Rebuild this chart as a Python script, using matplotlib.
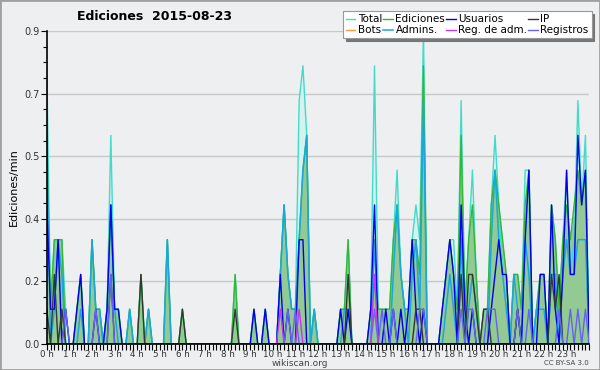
import numpy as np
import matplotlib
matplotlib.use('Agg')
import matplotlib.pyplot as plt
from matplotlib.ticker import MultipleLocator, FuncFormatter
from matplotlib.patches import Rectangle

# edits per minute, one value per 10 minutes (00:00 .. 24:00)
total = [
    0.8, 0.1, 0.3, 0.3, 0.3, 0.1,   # 0 h
    0.0, 0.0, 0.1, 0.2, 0.0, 0.0,   # 1 h
    0.3, 0.1, 0.1, 0.0, 0.1, 0.6,   # 2 h
    0.1, 0.1, 0.0, 0.0, 0.1, 0.0,   # 3 h
    0.0, 0.2, 0.0, 0.1, 0.0, 0.0,   # 4 h
    0.0, 0.0, 0.3, 0.0, 0.0, 0.0,   # 5 h
    0.1, 0.0, 0.0, 0.0, 0.0, 0.0,   # 6 h
    0.0, 0.0, 0.0, 0.0, 0.0, 0.0,   # 7 h
    0.0, 0.0, 0.2, 0.0, 0.0, 0.0,   # 8 h
    0.0, 0.1, 0.0, 0.0, 0.1, 0.0,   # 9 h
    0.0, 0.0, 0.2, 0.4, 0.2, 0.1,   # 10 h
    0.1, 0.7, 0.8, 0.6, 0.0, 0.1,   # 11 h
    0.0, 0.0, 0.0, 0.0, 0.0, 0.0,   # 12 h
    0.1, 0.1, 0.3, 0.0, 0.0, 0.0,   # 13 h
    0.0, 0.0, 0.1, 0.8, 0.1, 0.1,   # 14 h
    0.1, 0.1, 0.3, 0.5, 0.2, 0.1,   # 15 h
    0.1, 0.3, 0.4, 0.3, 0.9, 0.0,   # 16 h
    0.0, 0.0, 0.0, 0.1, 0.2, 0.3,   # 17 h
    0.3, 0.1, 0.7, 0.1, 0.3, 0.5,   # 18 h
    0.2, 0.0, 0.1, 0.1, 0.4, 0.6,   # 19 h
    0.4, 0.2, 0.2, 0.0, 0.2, 0.2,   # 20 h
    0.1, 0.5, 0.5, 0.0, 0.1, 0.2,   # 21 h
    0.2, 0.0, 0.4, 0.3, 0.1, 0.3,   # 22 h
    0.5, 0.2, 0.3, 0.7, 0.4, 0.6,   # 23 h
    0.0]
ediciones = [
    0.6, 0.1, 0.3, 0.3, 0.3, 0.0,
    0.0, 0.0, 0.1, 0.2, 0.0, 0.0,
    0.3, 0.1, 0.1, 0.0, 0.1, 0.4,
    0.1, 0.1, 0.0, 0.0, 0.1, 0.0,
    0.0, 0.2, 0.0, 0.1, 0.0, 0.0,
    0.0, 0.0, 0.3, 0.0, 0.0, 0.0,
    0.1, 0.0, 0.0, 0.0, 0.0, 0.0,
    0.0, 0.0, 0.0, 0.0, 0.0, 0.0,
    0.0, 0.0, 0.2, 0.0, 0.0, 0.0,
    0.0, 0.1, 0.0, 0.0, 0.1, 0.0,
    0.0, 0.0, 0.2, 0.4, 0.2, 0.1,
    0.1, 0.3, 0.5, 0.6, 0.0, 0.1,
    0.0, 0.0, 0.0, 0.0, 0.0, 0.0,
    0.1, 0.1, 0.3, 0.0, 0.0, 0.0,
    0.0, 0.0, 0.1, 0.2, 0.1, 0.1,
    0.1, 0.1, 0.3, 0.4, 0.2, 0.1,
    0.1, 0.3, 0.3, 0.2, 0.8, 0.0,
    0.0, 0.0, 0.0, 0.1, 0.2, 0.3,
    0.2, 0.1, 0.6, 0.1, 0.3, 0.4,
    0.2, 0.0, 0.1, 0.1, 0.4, 0.5,
    0.4, 0.3, 0.2, 0.0, 0.2, 0.2,
    0.1, 0.4, 0.5, 0.0, 0.1, 0.2,
    0.2, 0.0, 0.4, 0.3, 0.1, 0.3,
    0.4, 0.3, 0.4, 0.5, 0.4, 0.5,
    0.0]
usuarios = [
    0.4, 0.1, 0.1, 0.3, 0.0, 0.1,
    0.0, 0.0, 0.1, 0.2, 0.0, 0.0,
    0.0, 0.1, 0.0, 0.0, 0.1, 0.4,
    0.1, 0.1, 0.0, 0.0, 0.0, 0.0,
    0.0, 0.0, 0.0, 0.0, 0.0, 0.0,
    0.0, 0.0, 0.0, 0.0, 0.0, 0.0,
    0.0, 0.0, 0.0, 0.0, 0.0, 0.0,
    0.0, 0.0, 0.0, 0.0, 0.0, 0.0,
    0.0, 0.0, 0.0, 0.0, 0.0, 0.0,
    0.0, 0.1, 0.0, 0.0, 0.1, 0.0,
    0.0, 0.0, 0.2, 0.0, 0.1, 0.0,
    0.0, 0.3, 0.3, 0.0, 0.0, 0.0,
    0.0, 0.0, 0.0, 0.0, 0.0, 0.0,
    0.1, 0.0, 0.1, 0.0, 0.0, 0.0,
    0.0, 0.0, 0.1, 0.4, 0.0, 0.0,
    0.1, 0.0, 0.1, 0.0, 0.1, 0.0,
    0.1, 0.3, 0.1, 0.0, 0.1, 0.0,
    0.0, 0.0, 0.0, 0.1, 0.2, 0.3,
    0.2, 0.0, 0.4, 0.1, 0.0, 0.1,
    0.0, 0.0, 0.0, 0.0, 0.1, 0.2,
    0.3, 0.2, 0.2, 0.0, 0.0, 0.1,
    0.0, 0.3, 0.5, 0.0, 0.0, 0.2,
    0.2, 0.0, 0.4, 0.1, 0.0, 0.2,
    0.5, 0.2, 0.2, 0.6, 0.4, 0.5,
    0.0]
ip = [
    0.1, 0.0, 0.2, 0.0, 0.1, 0.0,
    0.0, 0.0, 0.0, 0.0, 0.0, 0.0,
    0.0, 0.0, 0.0, 0.0, 0.0, 0.2,
    0.0, 0.0, 0.0, 0.0, 0.0, 0.0,
    0.0, 0.2, 0.0, 0.0, 0.0, 0.0,
    0.0, 0.0, 0.0, 0.0, 0.0, 0.0,
    0.1, 0.0, 0.0, 0.0, 0.0, 0.0,
    0.0, 0.0, 0.0, 0.0, 0.0, 0.0,
    0.0, 0.0, 0.1, 0.0, 0.0, 0.0,
    0.0, 0.0, 0.0, 0.0, 0.0, 0.0,
    0.0, 0.0, 0.0, 0.0, 0.0, 0.0,
    0.0, 0.0, 0.0, 0.0, 0.0, 0.0,
    0.0, 0.0, 0.0, 0.0, 0.0, 0.0,
    0.0, 0.0, 0.2, 0.0, 0.0, 0.0,
    0.0, 0.0, 0.0, 0.0, 0.0, 0.0,
    0.0, 0.0, 0.0, 0.0, 0.0, 0.0,
    0.0, 0.0, 0.1, 0.1, 0.0, 0.0,
    0.0, 0.0, 0.0, 0.0, 0.0, 0.0,
    0.0, 0.0, 0.2, 0.0, 0.2, 0.2,
    0.1, 0.0, 0.1, 0.1, 0.0, 0.0,
    0.0, 0.0, 0.0, 0.0, 0.0, 0.1,
    0.0, 0.0, 0.0, 0.0, 0.0, 0.0,
    0.0, 0.0, 0.2, 0.1, 0.2, 0.0,
    0.0, 0.0, 0.0, 0.0, 0.0, 0.0,
    0.0]
admins = [
    0.6, 0.0, 0.1, 0.3, 0.2, 0.0,
    0.0, 0.0, 0.0, 0.1, 0.0, 0.0,
    0.3, 0.1, 0.1, 0.0, 0.1, 0.4,
    0.1, 0.0, 0.0, 0.0, 0.1, 0.0,
    0.0, 0.0, 0.0, 0.1, 0.0, 0.0,
    0.0, 0.0, 0.3, 0.0, 0.0, 0.0,
    0.0, 0.0, 0.0, 0.0, 0.0, 0.0,
    0.0, 0.0, 0.0, 0.0, 0.0, 0.0,
    0.0, 0.0, 0.0, 0.0, 0.0, 0.0,
    0.0, 0.0, 0.0, 0.0, 0.0, 0.0,
    0.0, 0.0, 0.2, 0.4, 0.2, 0.1,
    0.1, 0.3, 0.5, 0.6, 0.0, 0.1,
    0.0, 0.0, 0.0, 0.0, 0.0, 0.0,
    0.0, 0.1, 0.1, 0.0, 0.0, 0.0,
    0.0, 0.0, 0.0, 0.3, 0.0, 0.0,
    0.0, 0.0, 0.2, 0.4, 0.2, 0.1,
    0.0, 0.2, 0.3, 0.1, 0.7, 0.0,
    0.0, 0.0, 0.0, 0.0, 0.1, 0.2,
    0.1, 0.0, 0.3, 0.0, 0.1, 0.2,
    0.1, 0.0, 0.0, 0.0, 0.3, 0.5,
    0.3, 0.2, 0.1, 0.0, 0.2, 0.1,
    0.0, 0.3, 0.2, 0.0, 0.1, 0.1,
    0.1, 0.0, 0.2, 0.2, 0.0, 0.2,
    0.3, 0.2, 0.2, 0.3, 0.3, 0.3,
    0.0]
registros = [
    0.0, 0.0, 0.0, 0.0, 0.0, 0.1,
    0.0, 0.0, 0.0, 0.0, 0.0, 0.0,
    0.0, 0.1, 0.0, 0.0, 0.0, 0.2,
    0.0, 0.0, 0.0, 0.0, 0.0, 0.0,
    0.0, 0.0, 0.0, 0.0, 0.0, 0.0,
    0.0, 0.0, 0.0, 0.0, 0.0, 0.0,
    0.0, 0.0, 0.0, 0.0, 0.0, 0.0,
    0.0, 0.0, 0.0, 0.0, 0.0, 0.0,
    0.0, 0.0, 0.0, 0.0, 0.0, 0.0,
    0.0, 0.0, 0.0, 0.0, 0.0, 0.0,
    0.0, 0.0, 0.0, 0.0, 0.1, 0.0,
    0.1, 0.0, 0.0, 0.0, 0.0, 0.0,
    0.0, 0.0, 0.0, 0.0, 0.0, 0.0,
    0.0, 0.0, 0.0, 0.0, 0.0, 0.0,
    0.0, 0.0, 0.0, 0.1, 0.0, 0.1,
    0.0, 0.0, 0.1, 0.0, 0.0, 0.0,
    0.0, 0.0, 0.0, 0.1, 0.1, 0.0,
    0.0, 0.0, 0.0, 0.0, 0.0, 0.0,
    0.0, 0.0, 0.1, 0.0, 0.1, 0.1,
    0.0, 0.0, 0.0, 0.1, 0.1, 0.1,
    0.0, 0.0, 0.0, 0.0, 0.0, 0.1,
    0.0, 0.0, 0.1, 0.0, 0.0, 0.0,
    0.0, 0.0, 0.0, 0.0, 0.1, 0.0,
    0.0, 0.1, 0.0, 0.1, 0.0, 0.1,
    0.0]
reg_adm = [0.0] * 145
reg_adm[62] = 0.1
reg_adm[67] = 0.1
reg_adm[87] = 0.2
bots = [0.0] * 145

hours = np.arange(len(total)) / 6.0
hour_labels = ['%d h' % h for h in range(24)]

bg = '#eeeff1'
fig = plt.figure(figsize=(6, 3.7), dpi=100, facecolor=bg)
ax = fig.add_axes([0.078, 0.0703, 0.904, 0.8457], facecolor=bg)

ax.fill_between(hours, total, color='#d6f2ee', lw=0, zorder=1)
ax.fill_between(hours, ediciones, color='#93c993', lw=0, zorder=1.1)

ax.plot(hours, bots, color='#ff9933', lw=1, label='Bots', zorder=1.2)
ax.plot(hours, total, color='#40dcc8', lw=1, label='Total', zorder=2)
ax.plot(hours, ediciones, color='#33b833', lw=1, label='Ediciones', zorder=2.1)
ax.plot(hours, admins, color='#1aa8dc', lw=1.1, label='Admins.', zorder=2.2)
ax.plot(hours, usuarios, color='#0000ee', lw=1, label='Usuarios', zorder=2.3)
ax.plot(hours, ip, color='#333833', lw=1, label='IP', zorder=2.4)
ax.plot(hours, registros, color='#6464f0', lw=1, label='Registros', zorder=2.5)
ax.plot(hours, reg_adm, color='#cc33ee', lw=1, label='Reg. de adm.', zorder=2.6)

ax.set_xlim(0, 24)
ax.set_ylim(0, 0.9)
ax.yaxis.set_major_locator(MultipleLocator(0.18))
ax.yaxis.set_minor_locator(MultipleLocator(0.045))
ax.yaxis.set_major_formatter(FuncFormatter(lambda v, p: '%.1f' % v))
ax.set_xticks(range(24))
ax.set_xticklabels(hour_labels)
ax.xaxis.set_minor_locator(MultipleLocator(1 / 6.0))
ax.tick_params(axis='y', labelsize=7, labelcolor='#333333', length=4, width=0.8, pad=1)
ax.tick_params(axis='y', which='minor', length=3, width=0.8)
ax.tick_params(axis='x', which='both', length=4, width=0.8, pad=0,
               labelsize=6.3, labelcolor='#333333')
ax.grid(axis='y', color='#c8c8c8', lw=1, zorder=0.5)
ax.set_axisbelow(True)
for s in ['top', 'right']:
    ax.spines[s].set_visible(False)
for s in ['left', 'bottom']:
    ax.spines[s].set_color('black')
    ax.spines[s].set_linewidth(1.2)
    ax.spines[s].set_zorder(5)

ax.set_ylabel('Ediciones/min', fontsize=8, labelpad=4)

fig.text(0.257, 0.955, 'Ediciones  2015-08-23', fontsize=9, fontweight='bold',
         ha='center', va='center')
fig.text(0.5, 0.018, 'wikiscan.org', fontsize=6.5, color='#444444', ha='center', va='center')
fig.text(0.982, 0.018, 'CC BY-SA 3.0', fontsize=5, color='#444444', ha='right', va='center')

h, l = ax.get_legend_handles_labels()
order = ['Total', 'Bots', 'Ediciones', 'Admins.', 'Usuarios', 'Reg. de adm.', 'IP', 'Registros']
hd = dict(zip(l, h))
leg = ax.legend([hd[k] for k in order], order, ncol=4, loc='upper right',
                bbox_to_anchor=(0.986, 0.97), bbox_transform=fig.transFigure,
                fontsize=7.5, handlelength=0.9, handletextpad=0.25, columnspacing=0.1,
                labelspacing=0.1, borderpad=0.3, borderaxespad=0, fancybox=False,
                framealpha=1, edgecolor='#999999',
                shadow={'color': '#777777', 'alpha': 1})
leg.get_frame().set_linewidth(0.8)
leg.set_zorder(10)

fig.patches.append(Rectangle((0, 0), 1, 1, transform=fig.transFigure, fill=False,
                             edgecolor='#a0a0a0', lw=2))

plt.savefig('out.png', dpi=100, facecolor=bg)
